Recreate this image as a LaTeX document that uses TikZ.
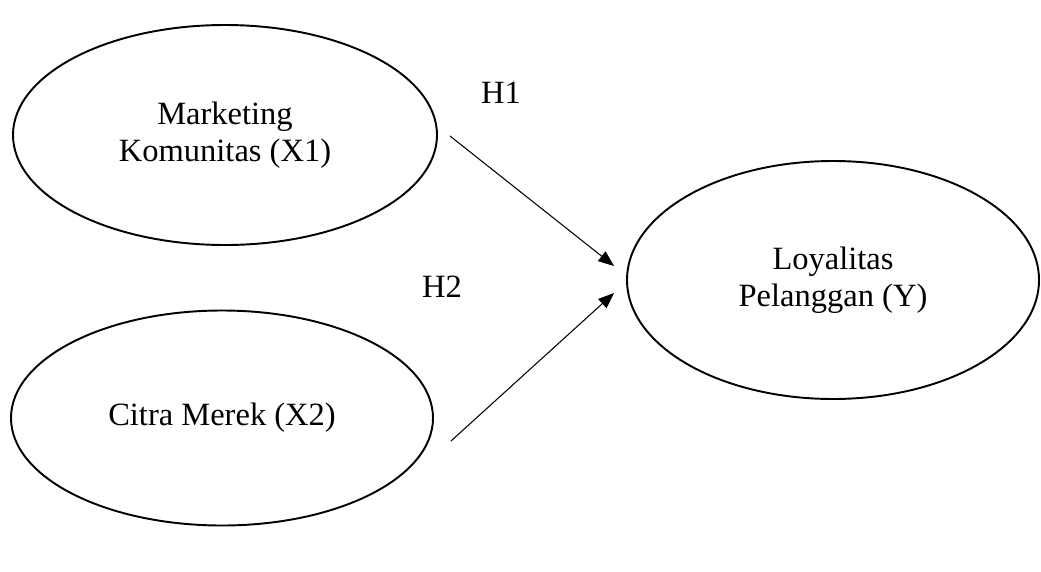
\documentclass[tikz,border=0pt]{standalone}
\usepackage{fontspec}
\setmainfont{Liberation Serif}
\usepackage{tikz}
\usetikzlibrary{shapes,arrows.meta}

\begin{document}
\begin{tikzpicture}[
    scale=1,
    every node/.style={
        font=\fontsize{18.5}{21}\selectfont,
        align=center
    },
    construct/.style={
        draw,
        ellipse,
        line width=1.1pt,
        inner sep=0pt
    },
    path/.style={
        line width=0.6pt,
        -{Triangle[length=9pt,width=7pt]}
    }
]
\useasboundingbox (0,0) rectangle (20.82,11.42);

% Nodes
\node[construct, minimum width=8.48cm, minimum height=4.40cm] (X1) at (4.50,8.72) {Marketing \\ Komunitas (X1)};
\node[construct, minimum width=8.44cm, minimum height=4.30cm] (X2) at (4.44,3.06) {Citra Merek (X2)};
\node[construct, minimum width=8.24cm, minimum height=4.76cm] (Y) at (16.66,5.82) {Loyalitas \\ Pelanggan (Y)};

\node (H1) at (10.02,9.56) {H1};
\node (H2) at (8.84,5.68) {H2};

% Connections
\draw[path] ([shift={(0.24,-0.02)}]X1.east) -- ([shift={(-0.24,0.28)}]Y.west);
\draw[path] ([shift={(0.34,-0.46)}]X2.east) -- ([shift={(-0.24,-0.26)}]Y.west);

\end{tikzpicture}
\end{document}
